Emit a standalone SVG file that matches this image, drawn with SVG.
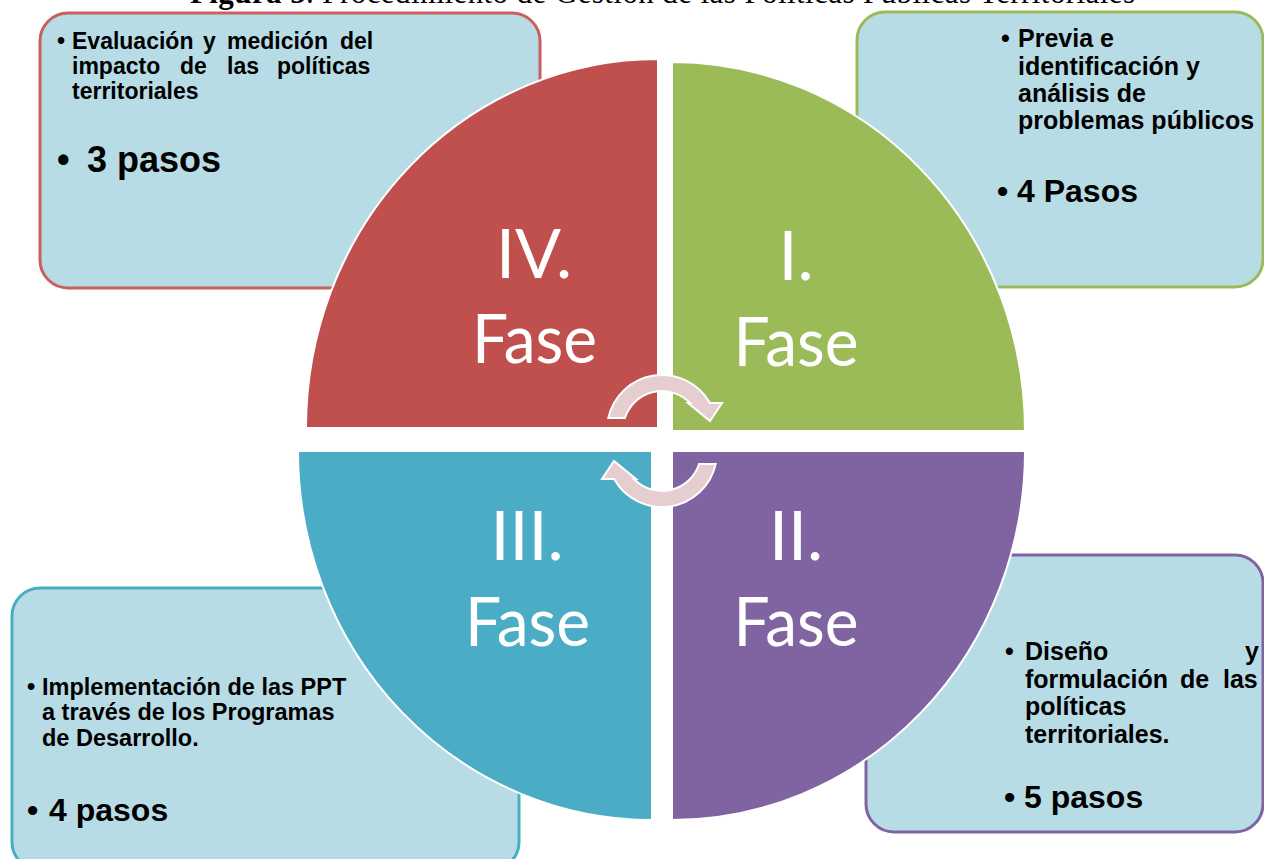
<svg xmlns="http://www.w3.org/2000/svg" width="1264" height="859" viewBox="0 0 1264 859">
<defs>
<style>
.box{fill:#B8DCE5;stroke-width:3}
.q{stroke:#FFFFFF;stroke-width:2}
.ph{font-family:Lato,"Open Sans","Liberation Sans",sans-serif;fill:#FFFFFF;font-size:68px;text-anchor:middle}
.t{font-family:"Liberation Sans",Arial,sans-serif;font-weight:bold;fill:#000000}
.s23{font-size:23px}
.s235{font-size:23.5px}
.s25{font-size:25px}
.big{font-size:32px}
.arr{fill:#E6CED0;stroke:#FFFFFF;stroke-width:2}
</style>
</defs>
<rect width="1264" height="859" fill="#FFFFFF"/>
<text x="190" y="3" font-family="'Liberation Serif','Times New Roman',serif" font-size="31" fill="#000000" textLength="945"><tspan font-weight="bold">Figura 5</tspan>. Procedimiento de Gestión de las Políticas Públicas Territoriales</text>

<g id="box-iv">
<rect class="box" x="40" y="13" width="500" height="275" rx="28" stroke="#C8605E"/>
<text class="t s23" x="57" y="49">•</text>
<text class="t s23" y="49"><tspan x="72">Evaluación</tspan><tspan x="203">y</tspan><tspan x="227">medición</tspan><tspan x="340">del</tspan></text>
<text class="t s23" y="74"><tspan x="72">impacto</tspan><tspan x="180">de</tspan><tspan x="227">las</tspan><tspan x="277">políticas</tspan></text>
<text class="t s23" x="72" y="99">territoriales</text>
<text class="t" font-size="36" x="57" y="172">•</text>
<text class="t" font-size="36" x="87" y="172">3 pasos</text>
</g>

<g id="box-i">
<rect class="box" x="857" y="12" width="406" height="275" rx="28" stroke="#9BBB59"/>
<text class="t s25" x="1001" y="47">•</text>
<text class="t s25" x="1018" y="47">Previa e</text>
<text class="t s25" x="1018" y="75">identificación y</text>
<text class="t s25" x="1018" y="102">análisis de</text>
<text class="t s25" x="1018" y="129">problemas públicos</text>
<text class="t big" x="997" y="202">•</text>
<text class="t big" x="1017" y="202">4 Pasos</text>
</g>

<g id="box-iii">
<rect class="box" x="12" y="588" width="507" height="282" rx="28" stroke="#4BACC6"/>
<text class="t s235" x="27" y="695">•</text>
<text class="t s235" x="42" y="695">Implementación de las PPT</text>
<text class="t s235" x="42" y="720">a través de los Programas</text>
<text class="t s235" x="42" y="746">de Desarrollo.</text>
<text class="t big" x="27" y="821">•</text>
<text class="t big" x="49" y="821">4 pasos</text>
</g>

<g id="box-ii">
<rect class="box" x="866" y="555" width="397" height="277" rx="28" stroke="#8064A2"/>
<text class="t s25" x="1005" y="660">•</text>
<text class="t s25" x="1025" y="660">Diseño</text>
<text class="t s25" x="1259" y="660" text-anchor="end">y</text>
<text class="t s25" y="688"><tspan x="1025">formulación</tspan><tspan x="1180">de</tspan><tspan x="1223">las</tspan></text>
<text class="t s25" x="1025" y="715">políticas</text>
<text class="t s25" x="1025" y="743">territoriales.</text>
<text class="t big" x="1004" y="808">•</text>
<text class="t big" x="1024" y="808">5 pasos</text>
</g>

<g id="phase-iv">
<path class="q" fill="#C0504D" d="M658,428 L306,428 A352,369 0 0 1 658,59 Z"/>
<text class="ph" x="534" y="278">IV.</text>
<text class="ph" x="534.5" y="363" textLength="125" lengthAdjust="spacingAndGlyphs">Fase</text>
</g>
<g id="phase-i">
<path class="q" fill="#9BBB59" d="M672,431 L672,62 A353,369 0 0 1 1025,431 Z"/>
<text class="ph" x="796" y="280">I.</text>
<text class="ph" x="796" y="366" textLength="125" lengthAdjust="spacingAndGlyphs">Fase</text>
</g>
<g id="phase-ii">
<path class="q" fill="#8064A2" d="M672,451 L1025,451 A353,369 0 0 1 672,820 Z"/>
<text class="ph" x="796" y="560">II.</text>
<text class="ph" x="796" y="646" textLength="125" lengthAdjust="spacingAndGlyphs">Fase</text>
</g>
<g id="phase-iii">
<path class="q" fill="#4BACC6" d="M652,451 L652,820 A354,369 0 0 1 298,451 Z"/>
<text class="ph" x="527" y="560">III.</text>
<text class="ph" x="527.5" y="646" textLength="125" lengthAdjust="spacingAndGlyphs">Fase</text>
</g>

<g id="connectors">
<path id="arrow-top" class="arr" d="M608.3,418 A55,55 0 0 1 709.9,403 L722,403 L710,421 L688,403 L690.1,403 A39,39 0 0 0 624.9,418 Z"/>
<path id="arrow-bottom" class="arr" transform="rotate(180 662 441)" d="M608.3,418 A55,55 0 0 1 709.9,403 L722,403 L710,421 L688,403 L690.1,403 A39,39 0 0 0 624.9,418 Z"/>
</g>
</svg>
